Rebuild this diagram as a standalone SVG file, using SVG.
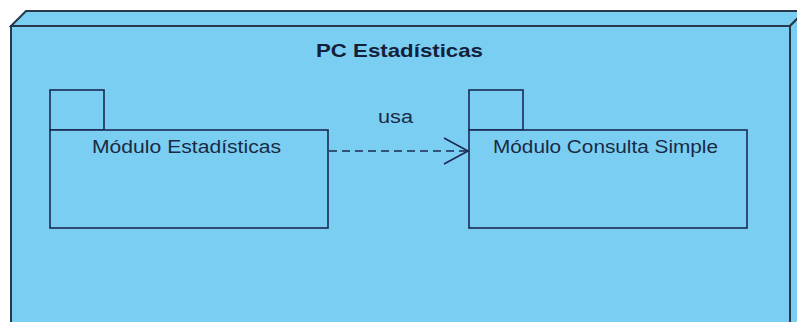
<svg xmlns="http://www.w3.org/2000/svg" width="797" height="322" viewBox="0 0 797 322">
<style>
.node3d{fill:#7acef2;stroke:#26384a;stroke-width:2}
.pkg{fill:#7acef2;stroke:#1a2a52;stroke-width:1.6}
.t{font-family:"Liberation Sans",Arial,sans-serif;font-size:17.5px;fill:#1a2a44}
.title{font-family:"Liberation Sans",Arial,sans-serif;font-size:19px;font-weight:bold;fill:#14203a}
.dep{fill:none;stroke:#1a2a52;stroke-width:1.6}
</style>
<rect width="797" height="322" fill="#ffffff"/>
<g id="pc-estadisticas">
<polygon class="node3d" points="11,26 26,11 805,11 790,26"/>
<polygon class="node3d" points="790,26 805,11 805,330 790,345"/>
<rect class="node3d" x="11" y="26" width="779" height="320"/>
<text class="title" x="316" y="57" textLength="167" lengthAdjust="spacingAndGlyphs">PC Estadísticas</text>
</g>
<g id="modulo-estadisticas">
<rect class="pkg" x="50" y="90" width="54" height="40"/>
<rect class="pkg" x="50" y="130" width="278" height="98"/>
<text class="t" x="92" y="153" textLength="189" lengthAdjust="spacingAndGlyphs">Módulo Estadísticas</text>
</g>
<g id="modulo-consulta-simple">
<rect class="pkg" x="469" y="90" width="54" height="40"/>
<rect class="pkg" x="469" y="130" width="278" height="98"/>
<text class="t" x="493" y="153" textLength="225" lengthAdjust="spacingAndGlyphs">Módulo Consulta Simple</text>
</g>
<g id="connectors">
<line class="dep" x1="329" y1="151" x2="467" y2="151" stroke-dasharray="8,5"/>
<polyline class="dep" points="444,138 468,151 444,164"/>
<text class="t" x="378" y="123" textLength="35" lengthAdjust="spacingAndGlyphs">usa</text>
</g>
</svg>
